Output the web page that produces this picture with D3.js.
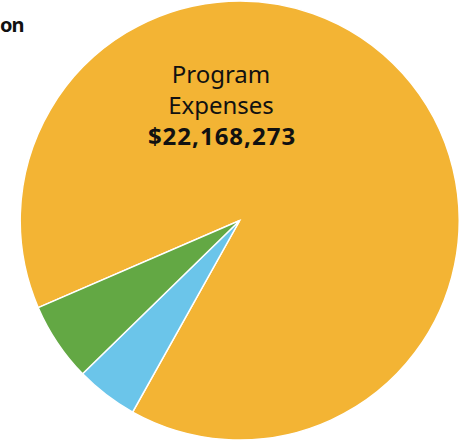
<!doctype html>
<html lang="en">
<head>
<meta charset="utf-8">
<title>Expense Allocation</title>
<style>
    body { margin: 0; background: #fff; }
    #plot { display: block; }
    .slice { stroke: #fff; stroke-width: 1.5px; }
    .title { font-family: "Noto Sans", sans-serif; font-weight: bold; font-size: 20px; letter-spacing: -1px; fill: #111; }
    .label { font-family: "Noto Sans", sans-serif; font-size: 24px; fill: #111; text-anchor: middle; }
    .label-value { font-weight: bold; letter-spacing: 1px; }
</style>
</head>
<body>
<svg id="plot" width="461" height="442"></svg>

<script src="https://d3js.org/d3.v7.min.js"></script>
<script>
// slices, in drawing order (clockwise)
const categories = ["Program Expenses", "Fundraising", "Management & General"];
const values = [22168273, 1134000, 1436000];
const labelLines = ["Program", "Expenses"];
// only the tail of the title is visible in the frame
const titleTail = "on";

let svg = d3.select("#plot"),
    cx = 239.7,
    cy = 220.5,
    radius = 219.5;

let color = d3.scaleOrdinal()
    .domain(categories)
    .range(["#F3B434", "#6BC5EA", "#63A844"]);

// first slice starts at lower left, ~246.6deg clockwise from 12 o'clock
let start = -113.4 * Math.PI / 180;
let pie = d3.pie()
    .sort(null)
    .startAngle(start)
    .endAngle(start + 2 * Math.PI);

let arc = d3.arc()
    .innerRadius(0)
    .outerRadius(radius);

let data = categories.map((c, i) => ({name: c, value: values[i]}));

let g = svg.append("g")
    .attr("transform", "translate(" + cx + "," + cy + ")");

g.selectAll("path")
    .data(pie.value(d => d.value)(data))
    .enter().append("path")
    .attr("class", "slice")
    .attr("fill", d => color(d.data.name))
    .attr("d", arc);

svg.append("text")
    .attr("class", "title")
    .attr("x", 0)
    .attr("y", 31.7)
    .text(titleTail);

// label for the big slice
let lbl = svg.append("text")
    .attr("class", "label")
    .attr("x", 221);

labelLines.forEach(function(t, i) {
    lbl.append("tspan")
        .attr("x", 221)
        .attr("y", 82.7 + i * 30.8)
        .text(t);
});

lbl.append("tspan")
    .attr("class", "label-value")
    .attr("x", 222)
    .attr("y", 145)
    .text(d3.format("$,")(values[0]));
</script>
</body>
</html>
